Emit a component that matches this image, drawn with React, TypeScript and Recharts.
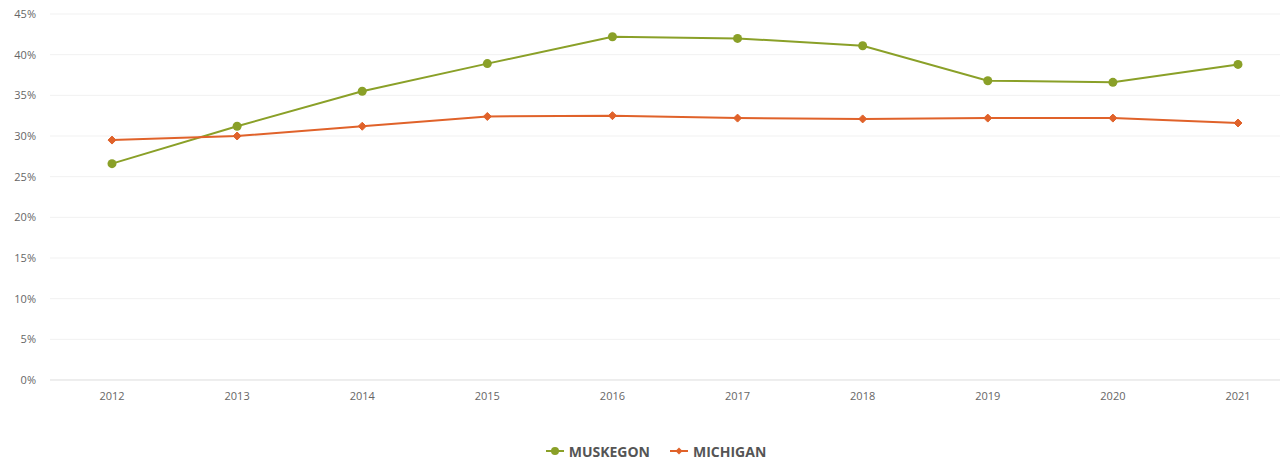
import { CartesianGrid, Legend, Line, LineChart, XAxis, YAxis } from "recharts"

const years = ["2012", "2013", "2014", "2015", "2016", "2017", "2018", "2019", "2020", "2021"]
const muskegon = [26.6, 31.2, 35.5, 38.9, 42.2, 42.0, 41.1, 36.8, 36.6, 38.8]
const michigan = [29.5, 30.0, 31.2, 32.4, 32.5, 32.2, 32.1, 32.2, 32.2, 31.6]
const yTicks = [0, 5, 10, 15, 20, 25, 30, 35, 40, 45]

const GREEN = "#8aa028"
const ORANGE = "#e0622a"

const data = years.map((year, i) => ({
  year,
  muskegon: muskegon[i],
  michigan: michigan[i],
}))

const Diamond = (props: any) => {
  const { cx, cy, key } = props
  if (cx == null || cy == null) return null
  const r = 4
  return (
    <polygon
      key={key}
      points={`${cx},${cy - r} ${cx + r},${cy} ${cx},${cy + r} ${cx - r},${cy}`}
      fill={ORANGE}
      stroke={ORANGE}
    />
  )
}

const LegendContent = () => {
  const items = [
    { label: "MUSKEGON", color: GREEN, diamond: false },
    { label: "MICHIGAN", color: ORANGE, diamond: true },
  ]
  return (
    <div
      style={{
        display: "flex",
        justifyContent: "center",
        gap: 20,
        paddingTop: 31,
        paddingLeft: 32,
        height: 51,
        boxSizing: "border-box",
      }}
    >
      {items.map((it) => (
        <div key={it.label} style={{ display: "flex", alignItems: "center", gap: 5 }}>
          <svg width={18} height={10}>
            <line x1={0} y1={5} x2={18} y2={5} stroke={it.color} strokeWidth={2} />
            {it.diamond ? (
              <polygon points="9,1.5 12.5,5 9,8.5 5.5,5" fill={it.color} />
            ) : (
              <circle cx={9} cy={5} r={4} fill={it.color} />
            )}
          </svg>
          <span style={{ fontFamily: "'Open Sans', sans-serif", fontWeight: 700, fontSize: 14, color: "#555" }}>
            {it.label}
          </span>
        </div>
      ))}
    </div>
  )
}

export default function App() {
  return (
    <div style={{ position: "absolute", left: 0, top: 0, background: "#fff" }}>
      <LineChart width={1283} height={461} data={data} margin={{ top: 14, right: 3, left: 0, bottom: 0 }}>
        <CartesianGrid vertical={false} stroke="#f1f1f1" />
        <XAxis
          dataKey="year"
          padding={{ left: 62, right: 42 }}
          tickLine={false}
          axisLine={{ stroke: "#e3e3e3" }}
          tick={{ fill: "#666", fontSize: 11, fontFamily: "'Open Sans', sans-serif" }}
          tickMargin={6}
          height={30}
        />
        <YAxis
          width={50}
          domain={[0, 45]}
          ticks={yTicks}
          tickFormatter={(v) => `${v}%`}
          tickLine={false}
          axisLine={false}
          tickMargin={8}
          tick={{ fill: "#666", fontSize: 11, fontFamily: "'Open Sans', sans-serif" }}
        />
        <Legend verticalAlign="bottom" height={51} content={<LegendContent />} />
        <Line
          type="linear"
          dataKey="muskegon"
          name="MUSKEGON"
          stroke={GREEN}
          strokeWidth={2}
          dot={{ r: 4.5, fill: GREEN, stroke: GREEN, strokeWidth: 0 }}
          isAnimationActive={false}
        />
        <Line
          type="linear"
          dataKey="michigan"
          name="MICHIGAN"
          stroke={ORANGE}
          strokeWidth={2}
          dot={<Diamond />}
          isAnimationActive={false}
        />
      </LineChart>
    </div>
  )
}
